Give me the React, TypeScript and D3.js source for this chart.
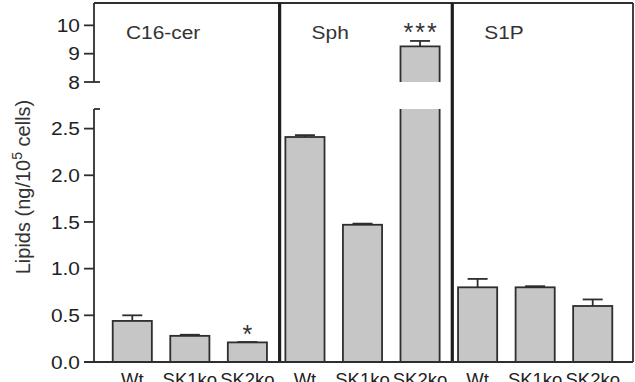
import React from 'react';
import * as d3 from 'd3';

const panels = ['C16-cer', 'Sph', 'S1P'];
const genotypes = ['Wt', 'SK1ko', 'SK2ko'];
const c16Means = [0.44, 0.28, 0.21];
const c16Errors = [0.06, 0.012, 0.004];
const sphMeans = [2.41, 1.47, 9.26];
const sphErrors = [0.02, 0.012, 0.19];
const s1pMeans = [0.8, 0.8, 0.6];
const s1pErrors = [0.09, 0.012, 0.07];
const c16Stars = ['', '', '*'];
const sphStars = ['', '', '***'];
const s1pStars = ['', '', ''];
const lowTicks = [0, 0.5, 1, 1.5, 2, 2.5];
const highTicks = [8, 9, 10];
const lowTickLabels = ['0.0', '0.5', '1.0', '1.5', '2.0', '2.5'];
const highTickLabels = ['8', '9', '10'];

const W = 635;
const H = 382;
const axisX = 94;
const right = 633;
const top = 3;
const bottom = 362;
const lowMax = 2.71;
const highMin = 8;
const highMax = 10.79;

const FONT = 'Liberation Sans, Arial, Helvetica, sans-serif';
const INK = '#2e2e2e';
const FILL = '#c6c6c6';
const SX = 1.1;
const SW = 1.8;

export default function App() {
  const means = [c16Means, sphMeans, s1pMeans];
  const errs = [c16Errors, sphErrors, s1pErrors];
  const stars = [c16Stars, sphStars, s1pStars];
  const rows = panels.flatMap((p, pi) =>
    genotypes.map((g, gi) => ({
      key: p + '|' + g,
      panel: pi,
      g,
      gi,
      mean: means[pi][gi],
      err: errs[pi][gi],
      star: stars[pi][gi],
    }))
  );

  const x = d3
    .scaleBand<string>()
    .domain(rows.map((r) => r.key))
    .range([92, right])
    .paddingInner(0.32)
    .paddingOuter(0.36);
  const bw = x.bandwidth();
  const yLow = d3.scaleLinear().domain([0, lowMax]).range([bottom, 109]);
  const yHigh = d3.scaleLinear().domain([highMin, highMax]).range([82, top]);

  const panelLefts = panels.map((p, pi) =>
    pi === 0 ? axisX : (x(p + '|' + genotypes[0]) as number) - x.step() * 0.1
  );

  const yOf = (v: number) => (v > lowMax ? yHigh(v) : yLow(v));

  return (
    <svg
      width={W}
      height={H}
      style={{ position: 'absolute', left: 0, top: 0, background: '#fff' }}
      fontFamily={FONT}
    >
      {/* bars */}
      {rows.map((r) => {
        const bx = x(r.key) as number;
        const cx = bx + bw / 2;
        const yTop = yOf(r.mean);
        const yErr = yOf(r.mean + r.err);
        const broken = r.mean > lowMax;
        return (
          <g key={r.key}>
            {!broken && (
              <rect
                x={bx}
                y={yTop}
                width={bw}
                height={bottom - yTop}
                fill={FILL}
                stroke={INK}
                strokeWidth={SW}
              />
            )}
            {broken && (
              <g>
                <rect x={bx} y={yLow(lowMax)} width={bw} height={bottom - yLow(lowMax)} fill={FILL} />
                <line x1={bx} x2={bx} y1={yLow(lowMax)} y2={bottom} stroke={INK} strokeWidth={SW} />
                <line x1={bx + bw} x2={bx + bw} y1={yLow(lowMax)} y2={bottom} stroke={INK} strokeWidth={SW} />
                <rect x={bx} y={yTop} width={bw} height={yHigh(highMin) - yTop} fill={FILL} />
                <path
                  d={`M${bx},${yHigh(highMin)}V${yTop}H${bx + bw}V${yHigh(highMin)}`}
                  fill="none"
                  stroke={INK}
                  strokeWidth={SW}
                />
              </g>
            )}
            <line x1={cx} x2={cx} y1={yTop} y2={yErr} stroke={INK} strokeWidth={SW} />
            <line x1={cx - 10} x2={cx + 10} y1={yErr} y2={yErr} stroke={INK} strokeWidth={SW} />
            {r.star && (
              <text
                x={cx + (r.star.length > 1 ? 1 : 0)}
                y={yErr + 0.5}
                textAnchor="middle"
                fontSize={25}
                letterSpacing={r.star.length > 1 ? 2 : 0}
                fill="#333"
              >
                {r.star}
              </text>
            )}
            <text x={cx} y={386} textAnchor="middle" fontSize={18.5} fill="#222">
              {r.g}
            </text>
          </g>
        );
      })}

      {/* frame */}
      <line x1={axisX} x2={right} y1={top} y2={top} stroke={INK} strokeWidth={SW} />
      <line x1={right} x2={right} y1={top} y2={bottom} stroke={INK} strokeWidth={SW} />
      {panelLefts.slice(1).map((px, i) => (
        <line key={i} x1={px} x2={px} y1={top} y2={bottom} stroke="#1e1e1e" strokeWidth={3.2} />
      ))}
      <line x1={84} x2={right} y1={bottom} y2={bottom} stroke={INK} strokeWidth={SW} />

      {/* y axis */}
      <line x1={axisX} x2={axisX} y1={yLow(lowMax)} y2={bottom} stroke={INK} strokeWidth={SW} />
      <line x1={axisX} x2={axisX} y1={top} y2={yHigh(highMin)} stroke={INK} strokeWidth={SW} />
      <line x1={axisX} x2={axisX + 6} y1={yLow(lowMax)} y2={yLow(lowMax)} stroke={INK} strokeWidth={SW} />
      {lowTicks.map((t, i) => (
        <g key={'l' + t}>
          <line x1={84} x2={axisX} y1={yLow(t)} y2={yLow(t)} stroke={INK} strokeWidth={SW} />
          <text
            transform={`translate(80,${yLow(t) + 6.8}) scale(${SX},1)`}
            textAnchor="end"
            fontSize={19}
            fill="#222"
          >
            {lowTickLabels[i]}
          </text>
        </g>
      ))}
      {highTicks.map((t, i) => (
        <g key={'h' + t}>
          <line
            x1={84}
            x2={t === highMin ? axisX + 6 : axisX}
            y1={yHigh(t)}
            y2={yHigh(t)}
            stroke={INK}
            strokeWidth={SW}
          />
          <text
            transform={`translate(80,${yHigh(t) + 6.8}) scale(${SX},1)`}
            textAnchor="end"
            fontSize={19}
            fill="#222"
          >
            {highTickLabels[i]}
          </text>
        </g>
      ))}

      {/* panel titles */}
      {panels.map((p, pi) => (
        <text
          key={p}
          transform={`translate(${panelLefts[pi] + 32},39) scale(${SX},1)`}
          fontSize={19}
          fill="#333"
        >
          {p}
        </text>
      ))}

      {/* y label */}
      <text
        transform="translate(30,187) rotate(-90)"
        textAnchor="middle"
        fontSize={20}
        fill="#333"
      >
        Lipids (ng/10
        <tspan fontSize={14} dy={-8}>5</tspan>
        <tspan dy={8}> cells)</tspan>
      </text>
    </svg>
  );
}
